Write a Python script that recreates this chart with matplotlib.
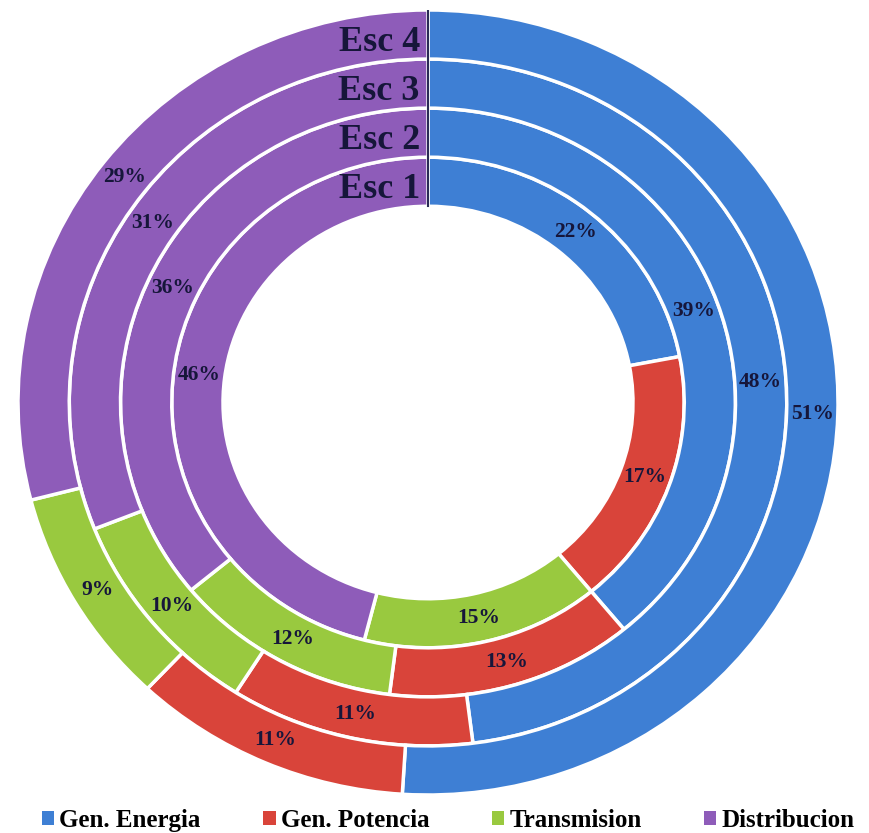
import numpy as np
import matplotlib
matplotlib.use("Agg")
from matplotlib import pyplot as plt
from matplotlib.patches import Patch

# share of each cost component per scenario (inner ring = Esc 1)
escenarios = ["Esc 1", "Esc 2", "Esc 3", "Esc 4"]
componentes = ["Gen. Energia", "Gen. Potencia", "Transmision", "Distribucion"]
gen_energia = [22, 39, 48, 51]
gen_potencia = [17, 13, 11, 11]
transmision = [15, 12, 10, 9]
distribucion = [46, 36, 31, 29]

colores = ["#3E7FD4", "#D9443A", "#99C93F", "#8E5CB9"]
texto = "#16163a"

plt.rcParams['font.family'] = ['Liberation Serif', 'DejaVu Serif']

fig = plt.figure(figsize=(8.7, 8.33), dpi=100)
ax = fig.add_axes([18 / 870, 38 / 833, 820 / 870, 785 / 833])

r_hueco = 0.5
ancho = 0.125

for i, esc in enumerate(escenarios):
    valores = [gen_energia[i], gen_potencia[i], transmision[i], distribucion[i]]
    radio = r_hueco + ancho * (i + 1)
    ax.pie(valores, radius=radio, colors=colores, startangle=90,
           counterclock=False,
           wedgeprops=dict(width=ancho, edgecolor="white", linewidth=2.5))

    # percentage labels in the middle of each segment
    r_med = radio - ancho / 2
    acum = 0
    for v in valores:
        ang = np.deg2rad(90 - 360 * (acum + v / 2) / 100)
        ax.text(r_med * np.cos(ang), r_med * np.sin(ang), f"{v}%",
                ha="center", va="center", fontsize=15.5, fontweight="bold",
                color=texto)
        acum += v

    ax.text(-0.02, r_med - 0.02, esc, ha="right", va="center", fontsize=26,
            fontweight="bold", color=texto)

# dark divider at 12 o'clock
ax.plot([0, 0], [r_hueco, 1.0], color="#2a2a55", lw=1.5)

ax.set_aspect("auto")
ax.set_xlim(-1, 1)
ax.set_ylim(-1, 1)
ax.axis("off")

handles = [Patch(facecolor=c, edgecolor="none") for c in colores]
fig.legend(handles, componentes, loc="lower center", bbox_to_anchor=(0.515, -0.026),
           ncol=4, frameon=False, handlelength=0.5, handleheight=0.5,
           handletextpad=0.2, columnspacing=2.5,
           prop=dict(family="Liberation Serif", weight="bold", size=18))

fig.savefig("out.png", dpi=100, facecolor="white")
